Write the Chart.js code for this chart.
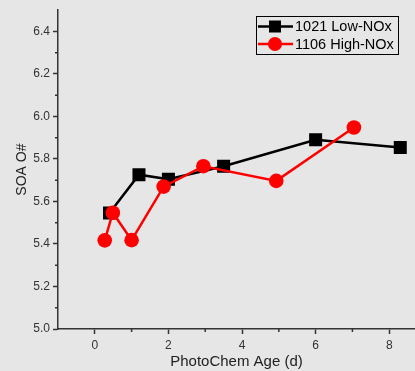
<!DOCTYPE html>
<html>
<head>
<meta charset="utf-8">
<script src="https://cdn.jsdelivr.net/npm/chart.js@4/dist/chart.umd.min.js"></script>
<style>
  html, body { margin: 0; padding: 0; background: #e6e6e6; }
  #wrap { width: 415px; height: 371px; position: relative; }
</style>
</head>
<body>
<div id="wrap"><canvas id="chart" width="415" height="371"></canvas></div>
<script>
// series data
const lowAge = [0.4, 1.2, 2.0, 3.5, 6.0, 8.3];
const lowO = [5.546, 5.726, 5.705, 5.766, 5.89, 5.854];
const highAge = [0.27, 0.49, 1.0, 1.87, 2.95, 4.93, 7.04];
const highO = [5.417, 5.547, 5.418, 5.67, 5.766, 5.697, 5.948];

const xTicks = [0, 2, 4, 6, 8];
const xMinor = [1, 3, 5, 7];
const yTicks = [5.0, 5.2, 5.4, 5.6, 5.8, 6.0, 6.2, 6.4];
const yMinor = [5.1, 5.3, 5.5, 5.7, 5.9, 6.1, 6.3];

const seriesNames = ['1021 Low-NOx', '1106 High-NOx'];

const FONT = 'Liberation Sans, Arial, sans-serif';
const AXIS = '#333';

function toPoints(xs, ys) { return xs.map((x, i) => ({ x, y: ys[i] })); }

// minor ticks + boxed legend with line and marker
const extras = {
  id: 'extras',
  afterDraw(chart) {
    const ctx = chart.ctx;
    const xs = chart.scales.x, ys = chart.scales.y;
    ctx.save();
    ctx.strokeStyle = AXIS;
    ctx.lineWidth = 1.5;
    ctx.beginPath();
    xMinor.forEach(v => { const p = xs.getPixelForValue(v); ctx.moveTo(p, xs.top); ctx.lineTo(p, xs.top + 3); });
    yMinor.forEach(v => { const p = ys.getPixelForValue(v); ctx.moveTo(ys.right, p); ctx.lineTo(ys.right - 3, p); });
    ctx.stroke();

    // legend
    const bx = 256, by = 16, bw = 142, bh = 38;
    ctx.strokeStyle = '#000';
    ctx.lineWidth = 1;
    ctx.strokeRect(bx + 0.5, by + 0.5, bw, bh);
    const dsets = chart.data.datasets;
    dsets.forEach((ds, i) => {
      const cy = by + 10.5 + i * 17.5;
      ctx.strokeStyle = ds.borderColor;
      ctx.lineWidth = 2.5;
      ctx.beginPath();
      ctx.moveTo(bx + 2, cy);
      ctx.lineTo(bx + 37, cy);
      ctx.stroke();
      ctx.fillStyle = ds.pointBackgroundColor;
      ctx.beginPath();
      if (ds.pointStyle === 'rect') ctx.rect(bx + 13, cy - 6, 12, 12);
      else ctx.arc(bx + 19, cy, 7, 0, Math.PI * 2);
      ctx.fill();
      ctx.fillStyle = '#000';
      ctx.font = '14.5px ' + FONT;
      ctx.textBaseline = 'middle';
      ctx.fillText(seriesNames[i], bx + 39, cy + 0.5);
    });
    ctx.restore();
  }
};

new Chart(document.getElementById('chart'), {
  type: 'scatter',
  data: {
    datasets: [
      {
        label: seriesNames[0],
        data: toPoints(lowAge, lowO),
        showLine: true,
        borderColor: '#000',
        backgroundColor: '#000',
        pointBackgroundColor: '#000',
        pointBorderWidth: 0,
        pointStyle: 'rect',
        pointRadius: 9.2,
        borderWidth: 2.5,
        order: 1
      },
      {
        label: seriesNames[1],
        data: toPoints(highAge, highO),
        showLine: true,
        borderColor: '#ff0000',
        backgroundColor: '#ff0000',
        pointBackgroundColor: '#ff0000',
        pointBorderWidth: 0,
        pointStyle: 'circle',
        pointRadius: 7.3,
        borderWidth: 2.5,
        order: 0
      }
    ]
  },
  options: {
    responsive: false,
    animation: false,
    layout: { autoPadding: false, padding: { top: 9, right: 0, left: 0, bottom: 0 } },
    plugins: { legend: { display: false }, tooltip: { enabled: false } },
    scales: {
      x: {
        type: 'linear',
        min: -1,
        max: 8.7,
        afterBuildTicks: s => { s.ticks = xTicks.map(v => ({ value: v })); },
        afterFit: s => { s.height = 42; s.paddingLeft = 0; s.paddingRight = 0; },
        ticks: { color: AXIS, font: { family: FONT, size: 12 }, padding: 4, maxRotation: 0 },
        grid: { drawOnChartArea: false, tickLength: 5, tickColor: AXIS, tickWidth: 1.5 },
        border: { color: AXIS, width: 1.5 },
        title: { display: true, text: 'PhotoChem Age (d)', color: '#222', font: { family: FONT, size: 15 }, padding: { top: 3, bottom: 0 } }
      },
      y: {
        min: 5.0,
        max: 6.5,
        afterBuildTicks: s => { s.ticks = yTicks.map(v => ({ value: v })); },
        afterFit: s => { s.width = 58; },
        ticks: { color: AXIS, font: { family: FONT, size: 12 }, padding: 3, callback: v => v.toFixed(1) },
        grid: { drawOnChartArea: false, tickLength: 5, tickColor: AXIS, tickWidth: 1.5 },
        border: { color: AXIS, width: 1.5 },
        title: { display: true, text: 'SOA O#', color: '#222', font: { family: FONT, size: 14 }, padding: { top: 14, bottom: 4 } }
      }
    }
  },
  plugins: [extras]
});
</script>
</body>
</html>
